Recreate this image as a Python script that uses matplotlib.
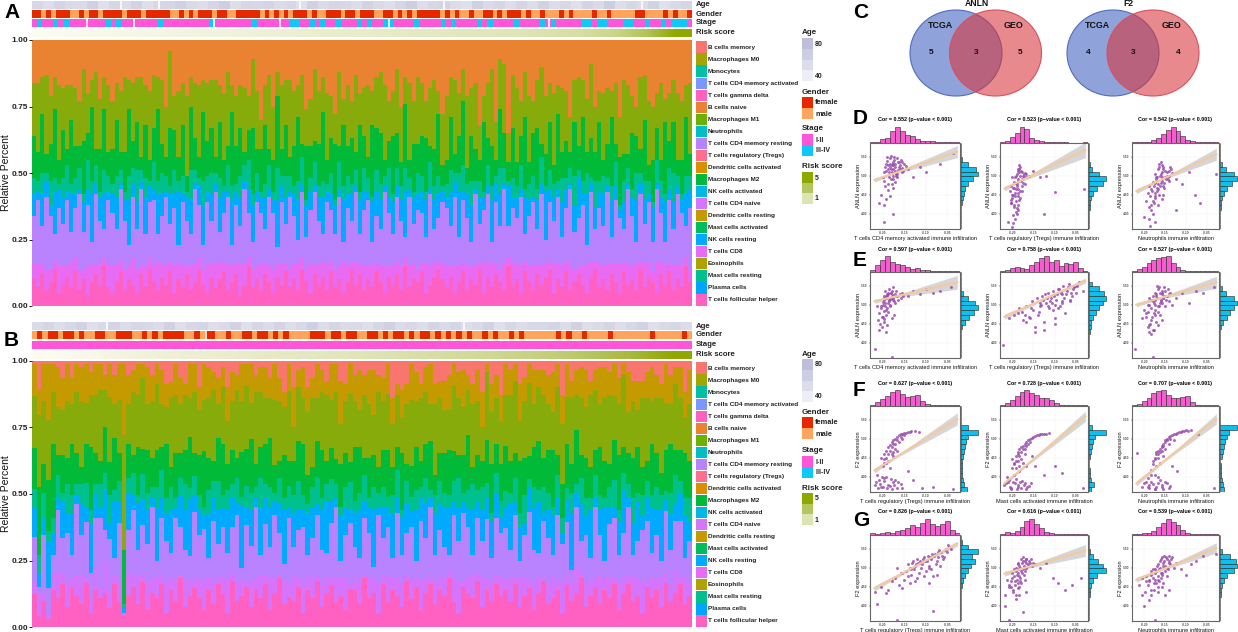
import numpy as np
import matplotlib
matplotlib.use('Agg')
import matplotlib.pyplot as plt
from matplotlib.colors import ListedColormap, LinearSegmentedColormap
from matplotlib.patches import Rectangle, Ellipse

plt.rcParams['font.family'] = ['Liberation Sans', 'DejaVu Sans']
plt.rcParams['font.weight'] = 'bold'

W, H = 1238, 632

# ---- immune cell types and their colours
cell_types = ['B cells memory', 'Macrophages M0', 'Monocytes', 'T cells CD4 memory activated',
              'T cells gamma delta', 'B cells naive', 'Macrophages M1', 'Neutrophils',
              'T cells CD4 memory resting', 'T cells regulatory (Tregs)', 'Dendritic cells activated',
              'Macrophages M2', 'NK cells activated', 'T cells CD4 naive', 'Dendritic cells resting',
              'Mast cells activated', 'NK cells resting', 'T cells CD8', 'Eosinophils',
              'Mast cells resting', 'Plasma cells', 'T cells follicular helper']
cell_colors = ['#F8766D', '#A3A500', '#00BFA5', '#7997FF', '#FF62BC', '#EA8331', '#6BB100', '#00BFC4',
               '#B983FF', '#FD6F8E', '#DB8E00', '#00BA38', '#00B8E5', '#D575FE', '#C49A00', '#00BD5C',
               '#00ABFD', '#E76BF3', '#AEA200', '#00C08D', '#00A5FF', '#FF61C3']

# ---- panel A, percent per sample, bottom of the stack first
a_tfh = [10,7,12,6,9,14,5,8,11,7,13,6,10,4,9,12,8,15,7,5,
         9,13,6,10,8,5,12,7,14,9,6,11,8,13,5,10,7,12,6,9,
         14,8,5,11,7,10,13,6,9,12,4,8,15,7,10,6,12,9,5,11,
         8,13,7,10,6,14,9,5,12,8,11,6,13,7,10,5,9,14,8,12,
         6,10,7,13,9,5,11,8,12,6,15,7,10,9,13,5,8,11,14,10,
         7,11,5,9,13,6,10,8,14,5,11,7,12,9,6,15,8,10,5,13,
         9,6,12,8,11,14,5,10,7,13,6,9,12,8,5,11,14,7,10,6,
         12,9,5,13,8,10,6,14,7,11,9,5,12,8,13,6,10,7,15,9]
a_cd8 = [6,9,4,8,5,3,10,7,4,9,5,8,3,11,6,4,7,3,9,10,
         7,4,8,5,10,9,3,8,4,6,11,5,7,4,10,6,8,3,9,7,
         4,6,11,5,9,7,3,10,6,4,12,8,3,7,5,10,4,6,9,5,
         8,3,7,6,10,4,5,11,3,8,6,9,4,7,5,12,6,3,8,4,
         9,5,8,3,6,10,4,7,5,9,3,8,6,5,3,11,7,5,3,6,
         8,4,10,6,3,9,5,7,3,11,6,9,4,5,10,3,8,6,10,4,
         6,9,4,7,5,3,11,6,8,4,10,5,3,7,11,6,3,9,5,10,
         4,7,11,3,8,5,10,3,9,6,4,12,5,7,3,9,6,8,3,5]
a_cd4 = [18,24,14,27,20,10,22,16,25,12,19,28,15,23,9,26,17,11,24,20,
         13,27,18,8,23,15,29,12,21,25,10,18,26,14,22,7,24,17,12,28,
         20,9,23,16,27,11,19,25,8,22,14,28,17,10,24,19,13,26,21,6,
         23,15,27,18,9,25,12,20,28,16,10,24,19,13,26,7,22,15,27,11,
         21,25,9,18,14,28,20,12,24,17,8,26,15,22,19,10,27,13,16,23,
         22,15,26,11,24,18,9,27,14,20,25,8,23,16,28,12,21,17,26,10,
         19,24,13,27,9,22,16,25,11,20,28,14,18,23,7,26,12,21,15,27,
         10,24,17,13,28,19,8,25,15,22,11,27,18,9,24,14,26,20,12,23]
a_nk = [8,3,12,6,4,16,7,10,3,14,5,2,11,6,18,4,9,13,3,7,
        12,2,8,17,5,10,3,14,6,4,15,8,2,11,5,20,3,9,13,2,
        7,15,4,10,3,13,8,2,17,5,11,3,9,14,4,6,12,3,5,18,
        6,10,2,8,15,3,12,7,2,9,14,4,6,11,3,16,5,10,2,13,
        7,3,15,9,11,2,6,12,4,8,17,3,10,6,8,14,2,11,9,4,
        4,13,6,17,3,9,14,2,10,5,3,16,7,12,2,15,4,8,3,14,
        6,2,11,4,18,5,9,3,13,7,2,10,15,4,19,3,8,6,12,2,
        14,5,3,10,2,7,16,4,9,3,13,2,6,15,4,10,3,5,12,7]
a_mast = [6,4,8,3,9,5,2,7,10,4,6,8,3,11,5,7,2,9,6,4,
          8,5,3,9,6,12,4,7,2,10,5,8,6,3,9,4,7,2,11,5,
          3,9,6,8,4,7,2,10,5,3,8,6,11,4,7,2,5,9,3,12,
          4,8,6,3,7,10,2,5,9,4,6,3,8,2,10,5,7,4,6,3,
          9,5,2,8,6,4,11,3,7,5,9,4,2,8,6,3,10,5,7,2,
          5,8,3,7,10,4,9,3,6,2,8,5,3,10,6,2,7,4,9,3,
          6,8,4,10,2,7,5,3,9,4,6,11,3,5,8,2,10,4,7,3,
          5,9,2,8,6,3,10,4,7,5,2,9,6,3,8,11,4,2,7,5]
a_m2 = [16,11,22,7,14,26,9,18,6,24,12,8,20,10,28,6,16,23,9,13,
        21,7,15,25,10,18,5,20,8,13,27,11,7,22,15,9,19,6,24,12,
        8,26,13,17,6,21,10,7,28,14,18,5,11,25,9,16,22,6,12,27,
        10,19,7,15,24,5,20,12,8,16,26,9,13,21,6,23,11,17,7,25,
        12,8,27,16,19,6,10,22,13,9,24,7,18,11,15,20,6,14,23,8,
        9,20,7,14,24,6,17,12,8,26,10,15,6,22,13,7,19,9,11,27,
        8,16,23,5,12,18,7,25,10,14,6,20,9,24,8,15,11,22,6,13,
        26,7,18,10,5,21,14,9,23,6,16,12,8,27,10,19,6,13,22,8]
a_m0 = [20,26,14,30,18,12,28,16,24,13,22,17,27,15,10,29,19,12,25,18,
        14,23,28,11,22,17,30,15,26,20,12,24,19,29,13,25,16,30,11,21,
        27,12,22,18,29,14,25,28,10,19,16,24,13,26,22,11,15,28,20,9,
        24,17,29,21,12,26,14,18,27,20,13,25,16,11,28,10,23,14,29,12,
        18,27,13,19,23,28,15,17,24,21,10,29,16,25,20,14,22,26,9,19,
        24,15,28,16,12,27,18,25,13,10,21,29,14,19,26,11,20,28,13,17,
        25,12,18,29,22,15,27,11,24,19,13,16,26,14,20,28,17,12,25,21,
        10,23,15,28,26,14,11,27,17,24,20,13,29,9,18,16,25,22,12,27]
a_layers = [a_tfh, a_cd8, a_cd4, a_nk, a_mast, a_m2, a_m0]
a_colors = ['#FF61C3', '#E76BF3', '#B983FF', '#00ABFD', '#00C08D', '#00BA38', '#86AB0A', '#EA8331']

# ---- panel B
b_tfh = [12,4,9,3,13,10,15,7,14,11,8,16,5,13,10,12,7,15,9,4,
         11,14,8,16,6,12,10,15,5,13,9,17,7,11,14,10,6,13,8,15,
         12,5,16,9,11,14,7,13,10,15,6,12,17,8,11,9,14,5,13,10,
         16,7,12,15,9,11,6,14,13,8,17,10,12,5,15,9,13,11,7,16,
         10,14,6,12,15,8,13,11,17,9,5,14,12,10,16,7,13,9,15,11,
         13,9,15,7,11,14,6,12,16,8,10,13,5,15,9,12,17,7,11,14,
         8,13,10,16,6,12,15,9,11,5,14,10,13,7,16,9,12,15,8,11]
b_cd8 = [5,8,3,2,6,9,4,8,3,7,10,2,5,8,4,11,6,3,7,1,
         8,4,9,2,10,5,7,3,11,4,8,1,9,6,3,7,10,4,8,2,
         5,12,3,7,6,2,9,4,8,3,11,6,1,8,5,9,3,10,4,7,
         2,8,5,3,9,6,11,2,4,8,1,7,5,10,3,9,4,6,8,2,
         7,3,10,5,2,8,4,6,3,9,11,2,5,8,3,10,4,7,3,6,
         4,8,2,10,6,3,9,5,1,7,8,3,11,4,6,9,2,8,5,3,
         10,4,7,2,9,5,3,8,6,11,2,7,4,10,3,6,8,2,9,5]
b_cd4 = [16,2,20,10,6,22,12,18,8,25,14,20,9,17,24,11,19,6,21,0,
         15,23,10,18,13,25,6,20,14,9,22,17,11,8,24,15,19,7,21,12,
         18,9,16,23,4,20,13,25,7,18,11,22,15,6,24,10,17,20,8,14,
         21,12,9,19,25,6,15,22,11,8,20,16,4,24,13,18,7,23,10,15,
         19,6,21,14,25,9,17,11,5,22,14,24,18,7,19,13,21,8,20,16,
         18,10,22,6,15,24,12,9,20,16,7,23,13,19,5,21,11,17,8,25,
         14,6,19,22,10,16,24,8,13,18,21,9,15,6,23,12,17,20,7,14]
b_nk = [11,5,6,18,8,4,13,7,15,3,11,5,17,9,4,14,6,20,8,2,
        13,5,16,9,12,3,19,7,10,15,4,11,14,20,6,9,5,16,8,12,
        7,15,10,4,22,6,13,3,17,9,14,5,10,19,4,12,7,6,15,11,
        4,14,18,8,3,16,10,5,12,17,6,9,20,3,11,7,16,5,13,10,
        6,18,8,12,3,15,9,14,17,5,12,4,7,16,6,11,8,13,9,5,
        7,16,5,12,4,9,15,18,3,10,14,6,4,8,20,5,13,7,17,3,
        9,19,6,4,12,15,3,11,14,5,8,16,9,18,4,13,6,10,15,7]
b_mast = [7,6,9,4,5,8,3,10,6,4,7,9,5,3,8,6,10,4,7,1,
          5,8,3,9,6,4,7,10,5,8,3,6,9,4,7,5,3,8,6,10,
          4,7,5,9,3,8,6,4,10,5,7,3,9,4,8,6,10,5,3,7,
          9,4,6,8,5,3,7,10,4,6,9,3,8,5,7,4,6,10,3,8,
          5,7,4,9,3,6,8,5,4,7,10,3,6,9,4,8,5,3,7,6,
          6,4,8,5,10,3,7,4,9,6,3,8,5,4,7,3,9,6,4,8,
          5,3,7,10,4,6,5,9,3,7,6,4,8,5,3,7,10,4,6,8]
b_m2 = [15,24,10,20,26,7,13,9,18,11,6,14,22,11,8,16,12,18,10,19,
        12,6,17,9,15,10,13,8,19,7,16,9,12,18,8,14,20,11,7,15,
        18,9,12,7,16,13,19,8,11,14,17,10,6,15,9,12,14,18,10,7,
        13,17,8,11,9,15,12,7,19,16,6,14,11,9,13,17,10,8,20,6,
        11,15,9,12,17,7,10,14,16,11,8,13,19,6,12,9,15,17,10,13,
        16,11,9,18,13,8,14,17,10,15,20,7,12,16,10,19,8,14,11,9,
        17,13,8,15,19,9,11,14,16,10,7,18,12,8,15,17,9,11,16,13]
b_m0 = [19,25,22,23,18,17,16,20,14,21,23,15,18,20,25,13,24,12,19,40,
        14,22,18,25,16,20,23,15,13,24,21,17,19,14,22,16,18,21,25,12,
        20,15,17,24,18,22,13,25,19,16,14,23,21,17,26,12,19,16,22,24,
        15,20,23,17,24,14,18,25,16,13,22,19,14,26,17,20,15,18,12,21,
        24,16,22,18,13,25,19,15,14,23,20,17,16,22,19,12,24,18,16,15,
        18,23,25,14,20,26,15,19,22,16,13,24,21,17,23,12,20,18,25,21,
        15,22,24,16,18,25,14,20,13,24,22,15,19,26,17,14,23,18,12,20]
b_dc = [12,9,13,22,10,14,11,13,9,10,12,14,8,11,9,5,12,10,13,25,
        10,8,11,5,13,9,7,12,8,6,11,9,4,12,10,8,13,11,6,9,
        7,12,10,5,13,8,14,6,9,11,7,13,8,5,10,14,6,11,9,7,
        12,8,5,13,10,15,6,11,9,14,7,12,16,6,8,11,9,4,10,7,
        13,10,5,9,14,7,6,10,12,8,9,13,5,7,11,12,3,10,8,9,
        11,9,6,13,8,7,12,6,9,10,14,8,10,12,6,9,11,13,5,7,
        13,11,8,12,9,4,14,7,10,6,9,12,8,5,14,10,6,11,9,12]
b_layers = [b_tfh, b_cd8, b_cd4, b_nk, b_mast, b_m2, b_m0, b_dc]
b_colors = ['#FF61C3', '#D575FE', '#B983FF', '#00ABFD', '#00C08D', '#00BA38', '#86AB0A', '#C49A00', '#F8766D']

# ---- annotation tracks: age, gender (f/m), stage (1/2), risk score
a_age = [60,55,63,58,58,66,52,61,57,64,53,60,62,66,59,55,62,68,54,61,60,63,57,60,52,65,58,62,60,56,
         64,59,53,61,67,55,60,63,57,52,66,58,61,54,62,56,65,56,60,53,63,58,67,55,61,57,64,52,59,62]
a_gender = ('ffmfmfffmmfmffmffffmfffmfffffmmfmfmfffmffmmfffffmfmfmfmfffmfmmfffmffmf'
            'ffmmffmfmfmfffffmfmfmmfmmffmfmfffmfmmfmmmfmfmmmmfmmfmmmmmffmmmmfmfmmf')
a_stage = ('1211212111111121211111112111111111211111112111111221121211211121211221111211'
           '11212111121211112111121211111221221112211211212221')
b_age = [58,62,55,60,64,52,59,63,56,61,60,57,65,53,60,62,55,58,64,52,61,57,63,54,60,66,56,62,58,59,
         53,61,65,57,60,54,63,58,62,55,59,64,52,61,56,60,60,63,57,65,54,58,62,55,60,64,53,59,61,56]
b_gender = ('mfmffmffmfmmffmmfffmmfmfmffffmmfmffmmfmmffmffmfmfmmmmfffmffmffmmffmfmf'
            'fmfmffmfmfmfmfmmfmfmmfmfmmmmmmfmfmmfmmmmfmmmmmmmfmmmmmfm')
b_stage = '1' * 60
a_risk = [0.3, 0.4, 0.5, 0.6, 0.7, 0.8, 0.9, 1.0, 1.1, 1.2, 1.3, 1.4, 1.5, 1.6, 1.7, 1.8, 2.0, 2.2, 2.6, 3.5, 5.0]
b_risk = [0.3, 0.5, 0.8, 1.0, 1.1, 1.3, 1.5, 1.6, 1.8, 2.0, 2.2, 2.4, 2.7, 3.0, 3.5, 4.1, 5.0]
# samples with a missing value in a track (shown as a white gap)
a_samples = 370
a_age_na = [50, 71, 150, 231, 342]
a_gender_na = []
a_stage_na = [31, 57, 102, 139, 200, 290]
b_samples = 220
b_age_na = [25, 144]
b_gender_na = [58]
b_stage_na = []

# ---- venn counts
venn_titles = ['ANLN', 'F2']
venn_left = [5, 4]
venn_both = [3, 3]
venn_right = [5, 4]

# ---- correlation panels, points in percent of the panel
d1_x = [22,25,28,18,30,24,33,20,27,35,16,29,23,38,26,19,31,21,36,28,
        17,24,32,40,14,26,20,42,12,18,15,22,10,25,16,48,55,62,78,92,
        20,23,26,29,32,34,37,22,25,28,31,18,21,24,27,30,33,19,23,26,29,35,16,20,24,28,17,22,26,30]
d1_y = [72,78,68,75,82,65,74,70,80,71,66,62,85,76,58,79,69,60,66,55,
        72,52,78,73,60,48,45,70,40,35,28,38,30,18,8,60,72,66,76,88,
        74,70,76,66,72,80,68,82,62,72,78,68,66,74,84,60,70,84,58,74,64,78,56,52,66,76,50,76,70,64]
d2_x = [18,22,25,20,16,27,23,19,30,21,24,17,26,14,28,20,22,33,15,25,
        18,12,23,16,20,14,19,13,17,11,15,21,9,14,38,45,52,63,50,95,
        17,19,21,23,25,27,29,18,20,22,24,26,16,19,21,23,25,28,15,18,20,22,14,17,19,13,16,18,12,15]
d2_y = [62,66,58,70,55,64,72,50,60,46,68,42,54,60,65,38,74,62,48,44,
        32,50,36,25,28,40,18,30,12,44,7,22,8,2,68,60,62,43,18,46,
        60,64,68,62,66,60,64,54,58,70,56,62,48,52,56,44,50,52,40,46,42,34,36,38,24,30,28,20,34,16]
d3_x = [32,36,40,28,34,38,42,30,35,26,44,37,24,33,41,29,46,22,36,31,
        27,20,34,18,25,22,30,16,24,20,27,14,21,50,58,66,72,78,50,96,
        30,33,36,39,42,45,31,34,37,40,43,29,32,35,38,27,30,33,36,25,28,31,23,26,29,21,24,27,19,22]
d3_y = [62,70,66,58,74,60,68,52,56,64,72,48,55,78,58,44,65,46,40,72,
        38,50,35,42,30,22,28,33,18,12,8,14,4,58,52,66,40,30,22,64,
        70,64,72,58,62,70,76,66,54,62,56,60,50,60,68,54,46,54,50,50,60,40,44,36,48,38,32,42,26,28]
e1_x = [18,20,22,16,24,19,26,21,14,28,23,17,25,30,20,12,15,22,33,10,
        13,18,27,8,16,11,24,19,36,42,48,55,62,70,78,90,10,18,5,24,
        17,19,21,23,25,27,29,18,20,22,24,26,15,17,19,21,23,14,16,18,20,12,14,16,31,34,37,28,13,9]
e1_y = [72,76,70,68,78,74,73,80,65,75,69,60,82,72,64,58,55,62,74,52,
        48,56,50,60,45,40,46,38,76,72,78,74,80,76,78,82,32,30,10,1,
        78,72,66,76,70,66,78,70,74,60,72,68,70,64,58,68,76,62,72,50,54,60,48,42,68,70,72,64,36,44]
e2_x = [22,30,36,42,48,54,60,66,72,78,84,90,28,38,46,52,58,64,70,76,
        82,88,20,34,44,50,56,62,68,74,80,10,16,26,40,50,62,3,40,94,
        45,49,53,57,61,65,69,73,77,81,85,55,59,63,67,71,75,79,83,35,43,47,51,60,70,33,25,30,66,86]
e2_y = [58,60,66,70,72,76,78,80,84,86,82,88,50,56,60,64,70,68,74,78,
        72,84,52,46,54,42,58,46,60,52,66,46,50,44,36,32,40,15,30,78,
        64,68,70,66,72,74,76,70,82,76,84,60,64,62,80,66,74,68,80,58,50,62,74,56,64,48,54,42,58,76]
e3_x = [28,32,36,24,30,34,38,26,40,33,22,29,44,35,20,27,37,18,31,25,
        16,22,14,28,12,20,32,18,24,42,50,58,66,74,82,94,25,22,3,24,
        26,29,31,33,35,37,39,41,27,30,32,34,36,38,24,26,28,30,22,25,20,23,18,21,16,19,43,46,30,34]
e3_y = [72,76,70,66,80,74,78,62,72,68,58,84,76,64,62,56,82,54,60,52,
        48,44,56,42,46,38,50,36,32,66,70,76,64,78,76,82,32,28,10,1,
        76,70,82,66,78,72,68,80,68,60,64,76,70,60,72,50,74,54,68,64,70,48,62,40,52,30,74,62,38,44]
f1_x = [18,22,26,30,34,38,42,46,50,54,16,20,24,28,32,36,14,18,22,26,
        30,6,10,14,18,22,26,30,34,8,12,16,20,24,28,42,48,58,70,92,
        20,24,28,32,36,40,44,22,26,30,34,38,18,24,28,16,20,26,12,16,7,11,15,19,23,27,31,35,9,13]
f1_y = [48,55,60,64,67,69,70,71,71,70,38,44,52,56,58,62,30,34,28,42,
        48,8,14,6,18,7,12,5,9,20,6,16,8,4,14,25,14,5,6,4,
        52,58,62,66,68,69,70,48,56,60,64,66,40,44,50,34,36,46,40,44,12,9,13,5,15,8,12,5,5,17]
f2_x = [18,22,26,30,34,38,42,46,50,56,16,20,24,28,32,14,18,22,26,30,
        36,5,9,13,17,21,25,29,33,8,12,16,20,24,28,40,50,62,70,94,
        20,24,28,32,36,40,44,48,52,22,26,30,34,18,24,28,16,20,14,22,7,11,15,19,23,27,31,35,10,18]
f2_y = [42,50,54,58,62,64,66,67,68,69,32,36,46,50,56,38,28,24,34,30,
        42,8,12,5,10,6,13,4,7,18,3,20,8,5,10,30,20,30,22,5,
        46,52,56,60,63,65,66,67,68,42,50,54,58,36,38,44,34,44,28,30,10,6,12,4,12,8,6,10,14,15]
f3_x = [30,34,38,42,46,50,54,58,62,68,26,30,34,38,42,24,28,32,36,22,
        26,12,16,20,24,28,32,36,40,44,18,22,26,30,34,46,52,6,76,94,
        32,36,40,44,48,52,56,60,64,28,32,36,40,44,48,26,30,34,38,24,28,14,18,22,26,30,34,38,42,20]
f3_y = [48,54,60,64,66,68,70,71,72,72,40,44,52,58,56,36,30,34,42,26,
        20,6,12,5,9,6,14,4,10,7,16,20,3,18,8,30,24,45,68,5,
        50,56,62,65,67,69,70,71,71,46,46,54,60,62,60,38,40,48,50,32,44,10,6,12,4,10,6,12,5,8]
g1_x = [42,48,52,56,60,64,68,72,76,80,84,88,40,46,50,54,58,62,66,70,
        74,78,82,34,38,44,30,36,24,28,20,12,18,8,5,50,66,74,30,70,
        44,47,51,55,59,63,67,71,75,79,83,87,45,49,53,57,61,65,69,73,77,81,85,90,52,60,68,42,36,32]
g1_y = [66,70,72,68,74,76,72,78,80,76,84,86,58,60,64,56,66,58,62,52,
        70,64,74,56,48,44,62,38,46,50,36,40,32,20,34,46,44,54,1,12,
        62,68,66,70,72,70,74,76,74,80,82,88,54,60,68,62,70,64,78,66,82,72,80,84,50,52,60,52,56,42]
g2_x = [22,25,28,20,30,24,18,26,32,27,34,21,16,29,23,19,36,14,24,17,
        12,20,10,15,8,22,6,18,40,46,52,60,66,74,82,92,6,26,10,30,
        20,23,26,29,32,24,27,30,18,21,25,28,33,22,26,30,16,19,23,14,17,20,12,15,10,35,38,22,28,18]
g2_y = [64,68,70,60,72,58,62,74,66,54,68,56,52,62,50,48,64,50,44,42,
        46,38,40,34,48,30,30,26,66,62,68,50,44,36,42,50,18,10,1,34,
        66,62,70,68,64,72,64,62,58,68,56,58,70,52,60,72,60,54,46,56,46,44,40,36,42,72,68,40,48,30]
g3_x = [32,36,40,28,34,38,42,30,44,26,37,24,33,41,46,22,31,20,28,18,
        25,16,34,12,22,8,14,30,50,56,62,68,74,82,96,38,42,20,12,26,
        30,33,36,39,42,45,31,34,37,40,43,29,32,35,38,27,30,33,24,27,30,22,25,19,22,16,15,48,40,36]
g3_y = [62,68,72,58,74,64,70,52,66,56,76,60,50,60,74,54,46,48,44,42,
        36,52,40,50,30,42,18,34,68,60,54,66,70,76,78,30,36,24,30,1,
        66,72,64,74,68,72,60,56,70,62,76,64,70,54,58,60,48,56,50,48,40,58,44,46,36,46,34,62,52,44]

# top histogram bars, left to right; side histogram bars, bottom to top
d1_top = [2,6,20,30,75,100,70,45,40,25,10,12,8,5,3,2,1,1]
d1_side = [1,2,2,3,4,8,14,18,28,45,70,100,90,40,10,3,1,1]
d2_top = [4,12,35,60,100,85,30,14,8,4,2,1,1,1,0,0,0,1]
d2_side = [1,2,1,3,6,10,14,24,48,80,100,60,20,6,2,1,1,1]
d3_top = [1,2,4,6,14,30,55,80,100,70,40,18,10,4,3,2,1,1]
d3_side = [1,2,2,4,6,10,14,24,40,70,100,80,35,12,4,1,1,1]
e1_top = [10,40,70,100,60,50,42,28,18,20,10,8,5,4,3,3,2,1]
e1_side = [2,1,2,2,1,3,10,25,50,75,100,85,45,15,3,1,1,1]
e2_top = [4,8,25,30,20,18,42,60,85,100,60,75,35,55,45,60,25,4]
e2_side = [2,1,1,3,1,6,12,16,24,40,60,80,100,90,60,20,5,1]
e3_top = [6,18,30,55,70,85,90,100,55,30,12,6,4,3,2,2,1,1]
e3_side = [2,1,1,2,1,3,10,22,40,60,85,100,80,35,12,3,1,1]
f1_top = [4,20,40,60,85,100,75,55,60,65,30,8,2,3,2,1,1,1]
f1_side = [35,20,12,8,6,8,10,12,20,25,30,45,100,40,3,1,1,1]
f2_top = [4,16,36,60,85,100,80,70,50,45,38,14,4,2,3,1,1,1]
f2_side = [14,30,14,10,6,5,4,8,16,22,28,36,100,20,2,1,1,1]
f3_top = [3,12,28,50,80,90,100,70,45,50,55,60,25,5,2,1,1,2]
f3_side = [25,22,12,8,6,6,5,12,18,24,30,45,55,100,3,1,1,1]
g1_top = [8,5,10,14,10,20,30,42,60,50,75,100,65,55,70,85,30,10]
g1_side = [1,1,2,1,1,3,5,8,14,24,42,60,80,65,100,45,10,1]
g2_top = [5,14,8,25,50,85,100,70,40,16,8,6,3,2,2,1,1,1]
g2_side = [1,2,1,2,5,8,10,16,28,50,100,80,55,25,6,1,1,1]
g3_top = [3,6,10,8,20,45,75,100,80,60,30,12,6,3,2,1,1,1]
g3_side = [1,2,1,2,4,6,10,14,28,45,85,100,95,60,15,3,1,1]

panel_titles = ['Cor = 0.552 (p\u2212value < 0.001)', 'Cor = 0.523 (p\u2212value < 0.001)', 'Cor = 0.542 (p\u2212value < 0.001)',
                'Cor = 0.597 (p\u2212value < 0.001)', 'Cor = 0.758 (p\u2212value < 0.001)', 'Cor = 0.527 (p\u2212value < 0.001)',
                'Cor = 0.627 (p\u2212value < 0.001)', 'Cor = 0.728 (p\u2212value < 0.001)', 'Cor = 0.707 (p\u2212value < 0.001)',
                'Cor = 0.826 (p\u2212value < 0.001)', 'Cor = 0.616 (p\u2212value < 0.001)', 'Cor = 0.539 (p\u2212value < 0.001)']
panel_xlabels = ['T cells CD4 memory activated', 'T cells regulatory (Tregs)', 'Neutrophils',
                 'T cells CD4 memory activated', 'T cells regulatory (Tregs)', 'Neutrophils',
                 'T cells regulatory (Tregs)', 'Mast cells activated', 'Neutrophils',
                 'T cells regulatory (Tregs)', 'Mast cells activated', 'Neutrophils']
panel_genes = ['ANLN'] * 6 + ['F2'] * 6
# fit line height at the left and right end, then ribbon half width left, middle, right
fit_left = [57, 47, 44, 66, 48, 62, 25, 10, 10, 38, 55, 48]
fit_right = [90, 92, 87, 88, 90, 88, 85, 88, 85, 90, 82, 85]
ribbon_w = [(2.5, 1, 7), (3, 1, 9), (3, 1, 7), (2.5, 1, 8), (3, 1, 3), (2.5, 1, 7),
            (3, 1, 7), (3, 1, 6), (3, 1, 6), (3, 1, 3), (3, 1, 7), (3, 1, 6)]
points = [(d1_x, d1_y), (d2_x, d2_y), (d3_x, d3_y), (e1_x, e1_y), (e2_x, e2_y), (e3_x, e3_y),
          (f1_x, f1_y), (f2_x, f2_y), (f3_x, f3_y), (g1_x, g1_y), (g2_x, g2_y), (g3_x, g3_y)]
top_hists = [d1_top, d2_top, d3_top, e1_top, e2_top, e3_top, f1_top, f2_top, f3_top, g1_top, g2_top, g3_top]
side_hists = [d1_side, d2_side, d3_side, e1_side, e2_side, e3_side, f1_side, f2_side, f3_side, g1_side, g2_side, g3_side]
x_tick_labels = ['-0.20', '-0.15', '-0.10', '-0.05']
y_tick_labels = ['4.00', '4.50', '5.00', '5.50']


def box(x0, y0, x1, y1):
    return [x0 / W, 1 - y1 / H, (x1 - x0) / W, (y1 - y0) / H]


def draw_stack(fig, rect, layers, colors, total):
    ax = fig.add_axes(box(*rect))
    vals = np.array(layers, dtype=float)
    rest = np.clip(total - vals.sum(axis=0), 1, None)
    vals = np.vstack([vals, rest])
    vals = vals / vals.sum(axis=0)
    x = np.arange(vals.shape[1])
    bottom = np.zeros(vals.shape[1])
    for v, c in zip(vals, colors):
        ax.bar(x, v, bottom=bottom, width=1.0, color=c, linewidth=0, antialiased=False)
        bottom = bottom + v
    ax.set_xlim(-0.5, len(x) - 0.5)
    ax.set_ylim(0, 1)
    ax.set_xticks([])
    ax.set_yticks([0, 0.25, 0.5, 0.75, 1.0])
    ax.set_yticklabels(['0.00', '0.25', '0.50', '0.75', '1.00'], fontsize=6, color='#222222')
    ax.tick_params(axis='y', length=2, width=0.6, pad=1)
    for s in ax.spines.values():
        s.set_visible(False)
    ax.set_ylabel('Relative Percent', fontsize=7.5, color='#111111')
    ax.yaxis.set_label_coords(-0.0315, 0.5)
    return ax


def track(fig, rect, values, cmap, vmin, vmax, interp='nearest', na=(), samples=1):
    ax = fig.add_axes(box(*rect))
    ax.imshow(np.array(values, dtype=float)[None, :], aspect='auto', cmap=cmap, vmin=vmin, vmax=vmax,
              interpolation=interp)
    for s in na:
        xpos = s / samples * len(values) - 0.5
        ax.axvline(xpos, color='white', linewidth=1.2)
    ax.axis('off')


age_cmap = LinearSegmentedColormap.from_list('age', ['#EDEDF5', '#D8D8E8', '#BEBEDC'])
gender_cmap = ListedColormap(['#E62800', '#FFA45C'])
stage_cmap = ListedColormap(['#FF55D8', '#10C8F8'])
risk_cmap = LinearSegmentedColormap.from_list('risk', ['#FBFBF0', '#DDE4B4', '#B5C660', '#8FA800'])


def annotation_tracks(fig, ys, age, gender, stage, risk, samples, age_na, gender_na, stage_na, x0=32, x1=692):
    track(fig, (x0, ys[0], x1, ys[0] + 8.5), age, age_cmap, 40, 80, na=age_na, samples=samples)
    g = [{'f': 1, 'm': 2}[c] for c in gender]
    track(fig, (x0, ys[1], x1, ys[1] + 8.5), g, gender_cmap, 1, 2, na=gender_na, samples=samples)
    s = [{'1': 1, '2': 2}[c] for c in stage]
    track(fig, (x0, ys[2], x1, ys[2] + 8.5), s, stage_cmap, 1, 2, na=stage_na, samples=samples)
    track(fig, (x0, ys[3], x1, ys[3] + 8.5), risk, risk_cmap, 0.3, 5, interp='bilinear')


def scatter_panel(fig, i, x0, y0, x1, y1):
    ax = fig.add_axes(box(x0, y0, x1, y1))
    px, py = points[i]
    ax.grid(True, color='#EFEFEF', linewidth=0.3)
    ax.set_axisbelow(True)
    mid = float(np.mean(px))
    fx = np.array([5, mid, 97])
    fy = np.interp(fx, [5, 97], [fit_left[i], fit_right[i]])
    ax.fill_between(fx, fy - np.array(ribbon_w[i]), fy + np.array(ribbon_w[i]), color='#D6D6D6', linewidth=0, zorder=2)
    ax.scatter(px, py, s=4.5, color='#9B4DAF', alpha=0.85, linewidths=0, zorder=3)
    ax.plot(fx, fy, color='#F3C9A0', linewidth=1.5, zorder=4)
    ax.set_xlim(0, 100)
    ax.set_ylim(0, 100)
    ax.set_xticks([14, 38, 62, 86])
    ax.set_xticklabels(x_tick_labels, fontsize=2.3, color='#555555')
    ax.set_yticks([18, 40, 62, 84])
    ax.set_yticklabels(y_tick_labels, fontsize=2.3, color='#555555')
    ax.tick_params(length=0.8, width=0.3, pad=0.8)
    for s in ax.spines.values():
        s.set_color('#666666')
        s.set_linewidth(0.8)
    ax.set_xlabel(panel_xlabels[i] + ' immune infiltration', fontsize=4.1, labelpad=0.6, color='#111111')
    ax.set_ylabel(panel_genes[i] + ' expression', fontsize=4.1, labelpad=0.5, color='#111111')

    top = fig.add_axes(box(x0, y0 - 17, x1, y0 - 0.5))
    edges = np.linspace(0, 100, len(top_hists[i]) + 1)
    top.bar(edges[:-1], top_hists[i], width=edges[1] - edges[0], align='edge', color='#F45CD0',
            edgecolor='#222222', linewidth=0.4)
    top.set_xlim(0, 100)
    top.set_ylim(0, 105)
    top.axis('off')

    side = fig.add_axes(box(x1 + 0.5, y0, x1 + 19, y1))
    edges = np.linspace(0, 100, len(side_hists[i]) + 1)
    side.barh(edges[:-1], side_hists[i], height=edges[1] - edges[0], align='edge', color='#10C0EC',
              edgecolor='#222222', linewidth=0.4)
    side.set_ylim(0, 100)
    side.set_xlim(0, 105)
    side.axis('off')
    fig.text((x0 + x1) / 2 / W, 1 - (y0 - 23) / H, panel_titles[i], fontsize=3.9, ha='center', va='center')


def legend_blocks(ov, x, y0, y1, colors):
    step = (y1 - y0) / len(colors)
    for k, c in enumerate(colors):
        ov.add_patch(Rectangle((x, y0 + k * step), 11, step, facecolor=c, edgecolor='none'))


def side_legends(ov, ys):
    # ys: title rows of age, gender, stage and risk score
    ty = ys[0]
    ov.text(802, ty, 'Age', fontsize=5.8, va='center', color='#222222')
    legend_blocks(ov, 802, ty + 5, ty + 48, ['#BEBEDC', '#CDCDE3', '#DCDCEC', '#EDEDF5'])
    ov.text(815, ty + 11, '80', fontsize=5, va='center', color='#222222')
    ov.text(815, ty + 43, '40', fontsize=5, va='center', color='#222222')
    ty = ys[1]
    ov.text(802, ty, 'Gender', fontsize=5.8, va='center', color='#222222')
    legend_blocks(ov, 802, ty + 5, ty + 27, ['#E62800', '#FFA45C'])
    ov.text(815, ty + 11, 'female', fontsize=5.3, va='center', color='#222222')
    ov.text(815, ty + 22, 'male', fontsize=5.3, va='center', color='#222222')
    ty = ys[2]
    ov.text(802, ty, 'Stage', fontsize=5.8, va='center', color='#222222')
    legend_blocks(ov, 802, ty + 5, ty + 27, ['#FF55D8', '#10C8F8'])
    ov.text(815, ty + 11, 'I-II', fontsize=5, va='center', color='#222222')
    ov.text(815, ty + 22, 'III-IV', fontsize=5, va='center', color='#222222')
    ty = ys[3]
    ov.text(802, ty, 'Risk score', fontsize=5.8, va='center', color='#222222')
    legend_blocks(ov, 802, ty + 5, ty + 37, ['#8FA800', '#B5C660', '#DDE4B4'])
    ov.text(815, ty + 11, '5', fontsize=5, va='center', color='#222222')
    ov.text(815, ty + 32, '1', fontsize=5, va='center', color='#222222')


def cell_legend(ov, y0, y1):
    step = (y1 - y0) / len(cell_types)
    for k, (name, c) in enumerate(zip(cell_types, cell_colors)):
        ov.add_patch(Rectangle((696, y0 + k * step + 0.4), 11, step - 0.8, facecolor=c, edgecolor='none'))
        ov.text(708, y0 + (k + 0.5) * step, name, fontsize=4.55, va='center', color='#222222')


def venn(ov, i, cx_left, cx_right, title_x):
    for cx, fc, ec in [(cx_left, '#3F5FBF', '#4E6CC0'), (cx_right, '#D8343C', '#D9505A')]:
        ov.add_patch(Ellipse((cx, 53), 92, 86, facecolor=fc, alpha=0.58, edgecolor='none'))
        ov.add_patch(Ellipse((cx, 53), 92, 86, facecolor='none', edgecolor=ec, linewidth=0.8))
    mid = (cx_left + cx_right) / 2
    ov.text(title_x, 4, venn_titles[i], fontsize=6.2, ha='center', va='center', color='#111111')
    ov.text(cx_left - 16, 26, 'TCGA', fontsize=6.4, ha='center', va='center', color='#111111')
    ov.text(cx_right + 18, 26, 'GEO', fontsize=6.4, ha='center', va='center', color='#111111')
    ov.text(cx_left - 25, 53, str(venn_left[i]), fontsize=6, ha='center', va='center', color='#111111')
    ov.text(mid, 52, str(venn_both[i]), fontsize=6, ha='center', va='center', color='#111111')
    ov.text(cx_right + 25, 53, str(venn_right[i]), fontsize=6, ha='center', va='center', color='#111111')


if __name__ == '__main__':
    fig = plt.figure(figsize=(W / 100, H / 100), dpi=100)

    draw_stack(fig, (32, 40, 692, 306), a_layers, a_colors, 100)
    draw_stack(fig, (32, 361, 692, 627), b_layers, b_colors, 93)
    annotation_tracks(fig, (1, 10, 19, 29), a_age, a_gender, a_stage, a_risk, a_samples, a_age_na, a_gender_na, a_stage_na)
    annotation_tracks(fig, (322, 331, 341, 351), b_age, b_gender, b_stage, b_risk, b_samples, b_age_na, b_gender_na, b_stage_na)

    col_x = [(870, 960), (1000, 1088), (1132, 1219)]
    row_y = [(143, 229), (272, 358), (406, 492), (535, 621)]
    for r, (y0, y1) in enumerate(row_y):
        for c, (x0, x1) in enumerate(col_x):
            scatter_panel(fig, r * 3 + c, x0, y0, x1, y1)

    # everything placed by pixel goes in one see-through layer
    ov = fig.add_axes([0, 0, 1, 1], zorder=10)
    ov.set_xlim(0, W)
    ov.set_ylim(H, 0)
    ov.axis('off')
    ov.patch.set_alpha(0)

    for y, lab in zip((5, 14, 23, 33), ('Age', 'Gender', 'Stage', 'Risk score')):
        ov.text(696, y, lab, fontsize=5.6, va='center', color='#222222')
    for y, lab in zip((326, 335, 345, 354), ('Age', 'Gender', 'Stage', 'Risk score')):
        ov.text(696, y, lab, fontsize=5.6, va='center', color='#222222')
    cell_legend(ov, 41, 306)
    cell_legend(ov, 362, 627)
    side_legends(ov, (33, 92, 129, 167))
    side_legends(ov, (354, 412, 451, 488))

    venn(ov, 0, 956, 995.5, 977)
    venn(ov, 1, 1113, 1153, 1128)

    for lab, x, y in [('A', 4, 12), ('B', 4, 340), ('C', 853, 12), ('D', 853, 118),
                      ('E', 853, 261), ('F', 853, 390), ('G', 853, 521)]:
        ov.text(x, y, lab, fontsize=15, va='center', color='black')

    fig.savefig('out.png', dpi=100)
